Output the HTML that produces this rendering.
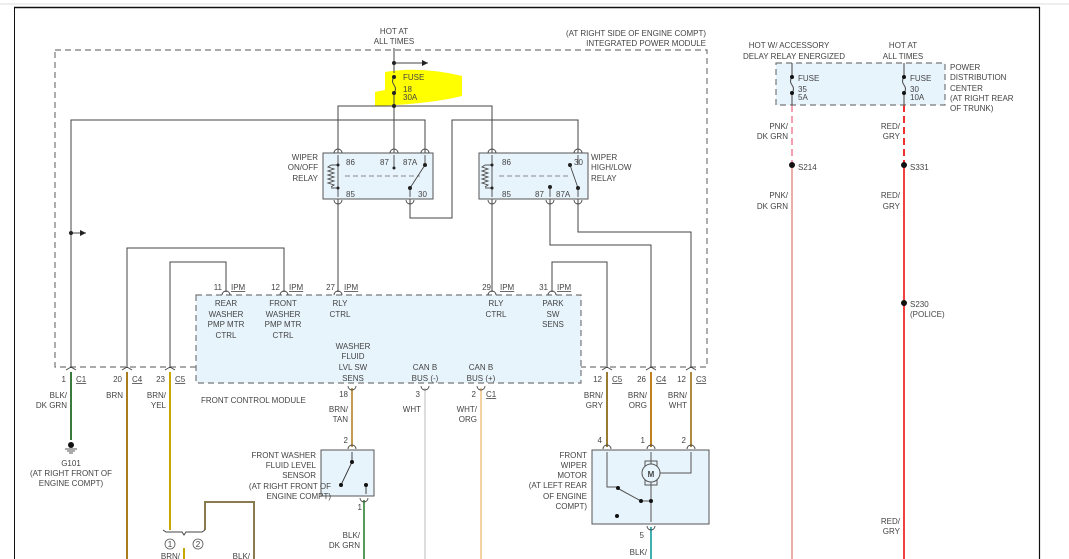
<!DOCTYPE html>
<html><head><meta charset="utf-8"><style>
html,body{margin:0;padding:0;background:#fff;}
svg{display:block;}
text{font-family:"Liberation Sans",sans-serif;font-size:8px;fill:#444;}
</style></head><body>
<svg width="1069" height="559" viewBox="0 0 1069 559" xmlns="http://www.w3.org/2000/svg">
<defs>
<marker id="ar" markerWidth="8" markerHeight="8" refX="6" refY="3" orient="auto"><path d="M0,0 L6,3 L0,6 Z" fill="#222"/></marker>
</defs>
<line x1="0" y1="4" x2="1069" y2="4" stroke="#ddd" stroke-width="1"/>
<line x1="14" y1="7.5" x2="1040" y2="7.5" stroke="#111" stroke-width="1.5"/>
<line x1="14.5" y1="7" x2="14.5" y2="559" stroke="#111" stroke-width="1"/>
<line x1="1039.5" y1="7" x2="1039.5" y2="559" stroke="#111" stroke-width="1.2"/>

<rect x="55" y="50" width="652" height="317" fill="none" stroke="#777" stroke-width="1.2" stroke-dasharray="6,4"/>
<text x="706" y="36" text-anchor="end">(AT RIGHT SIDE OF ENGINE COMPT)</text>
<text x="706" y="46" text-anchor="end">INTEGRATED POWER MODULE</text>
<text x="394" y="34" text-anchor="middle">HOT AT</text>
<text x="394" y="44" text-anchor="middle">ALL TIMES</text>

<rect x="196" y="295" width="385" height="88" fill="#e8f4fc" stroke="#777" stroke-width="1.2" stroke-dasharray="6,4"/>

<path d="M385,72 Q420,66 462,76 L462,96 Q430,104 375,106 L375,92 L385,90 Z" fill="#ffff00"/>

<g stroke="#444" stroke-width="1" fill="none">
<line x1="394" y1="48" x2="394" y2="73"/>
<path d="M394,77 q-3,4 0,8 q3,4 0,8"/>
<line x1="394" y1="93" x2="394" y2="153"/>
<line x1="394" y1="63" x2="428" y2="63" marker-end="url(#ar)"/>
<polyline points="338,153 338,106 492,106 492,153"/>
<polyline points="71,367 71,120 425,120 425,153"/>
<polyline points="410,199 410,218 452,218 452,120 578,120 578,153"/>
<line x1="71" y1="233" x2="86" y2="233" marker-end="url(#ar)"/>
<line x1="338" y1="199" x2="338" y2="292"/>
<line x1="492" y1="199" x2="492" y2="292"/>
<polyline points="550,199 550,245 651,245 651,367"/>
<polyline points="552,292 552,262 607,262 607,367"/>
<polyline points="578,199 578,232 691,232 691,367"/>
<polyline points="127,367 127,248 284,248 284,292"/>
<polyline points="170,367 170,262 226,262 226,292"/>
</g>
<g fill="#222">
<circle cx="394" cy="63" r="2"/><circle cx="394" cy="77" r="2"/><circle cx="394" cy="93" r="2"/><circle cx="394" cy="106" r="2"/><circle cx="71" cy="233" r="2"/>
</g>
<text x="403" y="80">FUSE</text><text x="403" y="92">18</text><text x="403" y="100">30A</text>

<rect x="323" y="153" width="110" height="46" fill="#e8f4fc" stroke="#555"/>
<g stroke="#444" fill="none" stroke-width="0.9">
<line x1="338" y1="155" x2="338" y2="197"/>
<polyline points="338,165 331,165"/><polyline points="338,188 331,188"/>
<path d="M331,165 l-3,2 6,2 -6,2 6,2 -6,2 6,2 -6,2 6,2 -6,2 6,2 -3,2"/>
<line x1="345" y1="176" x2="420" y2="176" stroke-dasharray="5,3" stroke="#888"/>
<line x1="394" y1="155" x2="394" y2="168"/>
<line x1="425" y1="155" x2="425" y2="165"/>
<line x1="425" y1="165" x2="410" y2="188"/>
<line x1="410" y1="188" x2="410" y2="197"/>
</g>
<text x="346" y="165">86</text><text x="380" y="165">87</text><text x="403" y="165">87A</text><text x="346" y="197">85</text><text x="418" y="197">30</text>
<text x="318" y="160" text-anchor="end">WIPER</text><text x="318" y="170" text-anchor="end">ON/OFF</text><text x="318" y="181" text-anchor="end">RELAY</text>

<rect x="479" y="153" width="109" height="46" fill="#e8f4fc" stroke="#555"/>
<g stroke="#444" fill="none" stroke-width="0.9">
<line x1="492" y1="155" x2="492" y2="197"/>
<polyline points="492,165 485,165"/><polyline points="492,188 485,188"/>
<path d="M485,165 l-3,2 6,2 -6,2 6,2 -6,2 6,2 -6,2 6,2 -6,2 6,2 -3,2"/>
<line x1="499" y1="176" x2="570" y2="176" stroke-dasharray="5,3" stroke="#888"/>
<line x1="550" y1="187" x2="550" y2="197"/>
<line x1="578" y1="155" x2="578" y2="165"/>
<line x1="570" y1="165" x2="578" y2="188"/>
<line x1="578" y1="188" x2="578" y2="197"/>
</g>
<text x="502" y="165">86</text><text x="574" y="165">30</text><text x="502" y="197">85</text><text x="535" y="197">87</text><text x="556" y="197">87A</text>
<text x="591" y="160">WIPER</text><text x="591" y="170">HIGH/LOW</text><text x="591" y="181">RELAY</text>
<g fill="#222"><circle cx="425" cy="165" r="2"/><circle cx="410" cy="188" r="2"/><circle cx="394" cy="168" r="1.5"/><circle cx="570" cy="165" r="2"/><circle cx="578" cy="188" r="2"/><circle cx="550" cy="187" r="2"/><circle cx="338" cy="165" r="1.5"/><circle cx="338" cy="188" r="1.5"/><circle cx="492" cy="165" r="1.5"/><circle cx="492" cy="188" r="1.5"/></g>

<text x="222" y="290" text-anchor="end">11</text><text x="231" y="290" text-decoration="underline">IPM</text>
<text x="280" y="290" text-anchor="end">12</text><text x="289" y="290" text-decoration="underline">IPM</text>
<text x="335" y="290" text-anchor="end">27</text><text x="344" y="290" text-decoration="underline">IPM</text>
<text x="491" y="290" text-anchor="end">29</text><text x="500" y="290" text-decoration="underline">IPM</text>
<text x="548" y="290" text-anchor="end">31</text><text x="557" y="290" text-decoration="underline">IPM</text>
<g text-anchor="middle">
<text x="226" y="306">REAR</text><text x="226" y="317">WASHER</text><text x="226" y="327">PMP MTR</text><text x="226" y="338">CTRL</text>
<text x="283" y="306">FRONT</text><text x="283" y="317">WASHER</text><text x="283" y="327">PMP MTR</text><text x="283" y="338">CTRL</text>
<text x="340" y="306">RLY</text><text x="340" y="317">CTRL</text>
<text x="496" y="306">RLY</text><text x="496" y="317">CTRL</text>
<text x="553" y="306">PARK</text><text x="553" y="317">SW</text><text x="553" y="327">SENS</text>
<text x="353" y="349">WASHER</text><text x="353" y="359">FLUID</text><text x="353" y="370">LVL SW</text><text x="353" y="381">SENS</text>
<text x="425" y="370">CAN B</text><text x="425" y="381">BUS (-)</text>
<text x="481" y="370">CAN B</text><text x="481" y="381">BUS (+)</text>
</g>
<text x="201" y="403">FRONT CONTROL MODULE</text>

<text x="66" y="382" text-anchor="end">1</text><text x="76" y="382" text-decoration="underline">C1</text>
<text x="122" y="382" text-anchor="end">20</text><text x="132" y="382" text-decoration="underline">C4</text>
<text x="165" y="382" text-anchor="end">23</text><text x="175" y="382" text-decoration="underline">C5</text>
<text x="602" y="382" text-anchor="end">12</text><text x="612" y="382" text-decoration="underline">C5</text>
<text x="646" y="382" text-anchor="end">26</text><text x="656" y="382" text-decoration="underline">C4</text>
<text x="686" y="382" text-anchor="end">12</text><text x="696" y="382" text-decoration="underline">C3</text>
<text x="348" y="397" text-anchor="end">18</text>
<text x="420" y="397" text-anchor="end">3</text>
<text x="476" y="397" text-anchor="end">2</text><text x="486" y="397" text-decoration="underline">C1</text>

<g fill="none" stroke-width="2">
<line x1="71" y1="372" x2="71" y2="440" stroke="#3a7a3a"/>
<line x1="127" y1="372" x2="127" y2="559" stroke="#a87b1c"/>
<line x1="170" y1="372" x2="170" y2="530" stroke="#c8a800"/>
<line x1="352" y1="388" x2="352" y2="447" stroke="#c29a50"/>
<line x1="425" y1="388" x2="425" y2="559" stroke="#ddd"/>
<line x1="481" y1="388" x2="481" y2="559" stroke="#f5d0a0"/>
<line x1="607" y1="372" x2="607" y2="447" stroke="#9a7a30"/>
<line x1="651" y1="372" x2="651" y2="447" stroke="#c08020"/>
<line x1="691" y1="372" x2="691" y2="447" stroke="#b08a40"/>
<line x1="364" y1="500" x2="364" y2="559" stroke="#5a9a5a"/>
<line x1="651" y1="527" x2="651" y2="559" stroke="#40b0b0"/>
<polyline points="205,530 205,502 254,502 254,559" stroke="#8a7a50"/>
<line x1="184" y1="548" x2="184" y2="559" stroke="#c8a800"/>
<line x1="792" y1="105" x2="792" y2="165" stroke="#f3a0b0" stroke-dasharray="7,4"/>
<line x1="792" y1="165" x2="792" y2="559" stroke="#e8b0a8"/>
<line x1="904" y1="105" x2="904" y2="165" stroke="#f03030" stroke-dasharray="7,4"/>
<line x1="904" y1="165" x2="904" y2="559" stroke="#f04040"/>
</g>
<text x="67" y="398" text-anchor="end">BLK/</text><text x="67" y="408" text-anchor="end">DK GRN</text>
<text x="123" y="398" text-anchor="end">BRN</text>
<text x="166" y="398" text-anchor="end">BRN/</text><text x="166" y="408" text-anchor="end">YEL</text>
<text x="348" y="412" text-anchor="end">BRN/</text><text x="348" y="422" text-anchor="end">TAN</text>
<text x="421" y="412" text-anchor="end">WHT</text>
<text x="477" y="412" text-anchor="end">WHT/</text><text x="477" y="422" text-anchor="end">ORG</text>
<text x="603" y="398" text-anchor="end">BRN/</text><text x="603" y="408" text-anchor="end">GRY</text>
<text x="647" y="398" text-anchor="end">BRN/</text><text x="647" y="408" text-anchor="end">ORG</text>
<text x="687" y="398" text-anchor="end">BRN/</text><text x="687" y="408" text-anchor="end">WHT</text>

<circle cx="71" cy="445" r="3" fill="#111"/>
<g stroke="#555"><line x1="65" y1="449" x2="77" y2="449"/><line x1="67" y1="451" x2="75" y2="451"/><line x1="69" y1="453" x2="73" y2="453"/></g>
<g text-anchor="middle"><text x="71" y="466">G101</text><text x="71" y="476">(AT RIGHT FRONT OF</text><text x="71" y="486">ENGINE COMPT)</text></g>

<path d="M163,530 l3,2 h16 l2,3 2,-3 h16 l3,-2" stroke="#444" fill="none"/>
<circle cx="170" cy="544" r="5" fill="none" stroke="#555" stroke-width="0.8"/><text x="170" y="547" text-anchor="middle" font-size="7">1</text>
<circle cx="198" cy="544" r="5" fill="none" stroke="#555" stroke-width="0.8"/><text x="198" y="547" text-anchor="middle" font-size="7">2</text>
<text x="180" y="559" text-anchor="end">BRN/</text><text x="250" y="559" text-anchor="end">BLK/</text>

<rect x="321" y="450" width="53" height="46" fill="#e8f4fc" stroke="#555"/>
<g stroke="#333" stroke-width="0.9"><line x1="352" y1="452" x2="352" y2="462"/><line x1="352" y1="462" x2="341" y2="485"/><line x1="366" y1="485" x2="366" y2="494"/></g>
<g fill="#111"><circle cx="352" cy="462" r="2"/><circle cx="341" cy="485" r="2"/><circle cx="366" cy="485" r="2"/></g>
<text x="348" y="443" text-anchor="end">2</text><text x="362" y="510" text-anchor="end">1</text>
<g text-anchor="end"><text x="316" y="458">FRONT WASHER</text><text x="316" y="468">FLUID LEVEL</text><text x="316" y="478">SENSOR</text><text x="331" y="489">(AT RIGHT FRONT OF</text><text x="331" y="499">ENGINE COMPT)</text>
<text x="360" y="538">BLK/</text><text x="360" y="548">DK GRN</text></g>

<rect x="592" y="450" width="117" height="74" fill="#e8f4fc" stroke="#555"/>
<g stroke="#555" fill="none" stroke-width="1">
<polyline points="607,452 607,487 617,487"/>
<line x1="619" y1="489" x2="641" y2="501"/>
<line x1="641" y1="501" x2="651" y2="501"/>
<line x1="651" y1="482" x2="651" y2="522"/>
<line x1="651" y1="452" x2="651" y2="464"/>
<polyline points="660,473 691,473 691,452"/>
<rect x="645" y="461" width="12" height="24"/>
<circle cx="651" cy="473" r="9" fill="#e8f4fc"/>
</g>
<text x="651" y="477" text-anchor="middle" font-size="11" font-weight="bold" fill="#333">M</text>
<g fill="#111"><circle cx="618" cy="488" r="2"/><circle cx="641" cy="501" r="2"/><circle cx="651" cy="501" r="2"/><circle cx="617" cy="516" r="2"/></g>
<text x="602" y="443" text-anchor="end">4</text><text x="645" y="443" text-anchor="end">1</text><text x="686" y="443" text-anchor="end">2</text><text x="644" y="538" text-anchor="end">5</text>
<g text-anchor="end"><text x="587" y="458">FRONT</text><text x="587" y="468">WIPER</text><text x="587" y="478">MOTOR</text><text x="587" y="488">(AT LEFT REAR</text><text x="587" y="499">OF ENGINE</text><text x="587" y="509">COMPT)</text><text x="647" y="555">BLK/</text></g>

<g stroke="#444" fill="none" stroke-width="0.9">
<path d="M334,153 a4,4 0 0 1 8,0 M390,153 a4,4 0 0 1 8,0 M421,153 a4,4 0 0 1 8,0 M488,153 a4,4 0 0 1 8,0 M574,153 a4,4 0 0 1 8,0"/>
<path d="M334,200 a4,4 0 0 0 8,0 M406,200 a4,4 0 0 0 8,0 M488,200 a4,4 0 0 0 8,0 M546,200 a4,4 0 0 0 8,0 M574,200 a4,4 0 0 0 8,0"/>
<path d="M222,295 a4,4 0 0 1 8,0 M280,295 a4,4 0 0 1 8,0 M334,295 a4,4 0 0 1 8,0 M488,295 a4,4 0 0 1 8,0 M548,295 a4,4 0 0 1 8,0"/>
<path d="M66,370 l5,-3 5,3 M122,370 l5,-3 5,3 M165,370 l5,-3 5,3 M602,370 l5,-3 5,3 M646,370 l5,-3 5,3 M686,370 l5,-3 5,3"/>
<path d="M348,386 a4,4 0 0 0 8,0 M421,386 a4,4 0 0 0 8,0 M477,386 a4,4 0 0 0 8,0"/>
<path d="M348,449 a4,4 0 0 1 8,0 M603,449 a4,4 0 0 1 8,0 M647,449 a4,4 0 0 1 8,0 M687,449 a4,4 0 0 1 8,0"/>
<path d="M360,498 a4,4 0 0 0 8,0 M647,526 a4,4 0 0 0 8,0"/>
</g>

<rect x="776" y="63" width="169" height="42" fill="#e8f4fc" stroke="#777" stroke-width="1.2" stroke-dasharray="6,4"/>
<g stroke="#444" fill="none"><line x1="792" y1="63" x2="792" y2="77"/><path d="M792,77 q-3,4 0,8 q3,4 0,8"/><line x1="792" y1="93" x2="792" y2="105"/>
<line x1="904" y1="63" x2="904" y2="77"/><path d="M904,77 q-3,4 0,8 q3,4 0,8"/><line x1="904" y1="93" x2="904" y2="105"/></g>
<g fill="#111"><circle cx="792" cy="77" r="2"/><circle cx="792" cy="93" r="2"/><circle cx="904" cy="77" r="2"/><circle cx="904" cy="93" r="2"/><circle cx="792" cy="165" r="3"/><circle cx="904" cy="165" r="3"/><circle cx="904" cy="303" r="3"/></g>
<text x="798" y="81">FUSE</text><text x="798" y="92">35</text><text x="798" y="100">5A</text>
<text x="910" y="81">FUSE</text><text x="910" y="92">30</text><text x="910" y="100">10A</text>
<g text-anchor="middle"><text x="789" y="48">HOT W/ ACCESSORY</text><text x="794" y="59">DELAY RELAY ENERGIZED</text><text x="903" y="48">HOT AT</text><text x="903" y="59">ALL TIMES</text></g>
<text x="950" y="70">POWER</text><text x="950" y="80">DISTRIBUTION</text><text x="950" y="91">CENTER</text><text x="950" y="101">(AT RIGHT REAR</text><text x="950" y="111">OF TRUNK)</text>
<g text-anchor="end"><text x="788" y="129">PNK/</text><text x="788" y="139">DK GRN</text><text x="788" y="198">PNK/</text><text x="788" y="209">DK GRN</text>
<text x="900" y="129">RED/</text><text x="900" y="139">GRY</text><text x="900" y="198">RED/</text><text x="900" y="209">GRY</text><text x="900" y="524">RED/</text><text x="900" y="534">GRY</text></g>
<text x="798" y="170">S214</text><text x="910" y="170">S331</text><text x="910" y="307">S230</text><text x="910" y="317">(POLICE)</text>
</svg>
</body></html>
